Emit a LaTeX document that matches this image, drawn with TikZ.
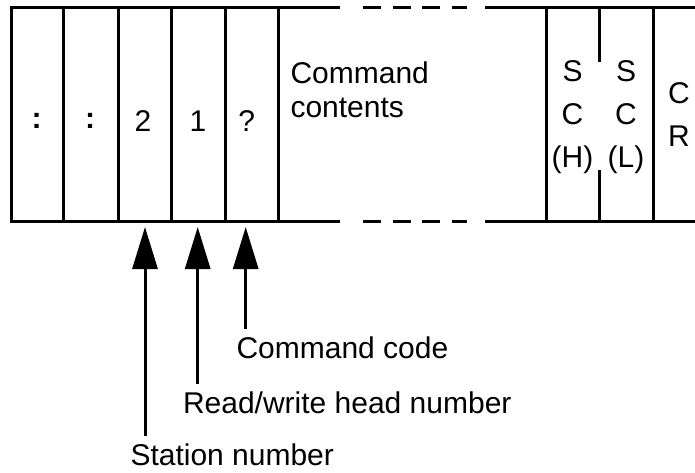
\documentclass[tikz,border=0pt]{standalone}
\usepackage{fontspec}
\setmainfont{Liberation Sans}
\usetikzlibrary{arrows.meta}
\tikzset{
  celltext/.style={inner sep=0pt,font=\fontsize{15}{21.5}\selectfont},
  boldtext/.style={inner sep=0pt,font=\fontsize{15}{21.5}\selectfont\bfseries},
  callout/.style={inner xsep=0pt,inner ysep=3pt,anchor=base west,font=\fontsize{15}{17}\selectfont},
  pointer/.style={-{Triangle[length=21pt,width=12.5pt]}},
  gapline/.style={dash pattern=on 9pt off 5.85pt}
}
\begin{document}
\begin{tikzpicture}[x=0.5pt,y=-0.5pt,line width=1.5pt]
  \useasboundingbox (0,0) rectangle (695,472);
  % frame
  \draw (340,7) -- (11.7,7) -- (11.7,221) -- (340,221);
  \draw (485,7) -- (695,7);
  \draw (485,221) -- (695,221);
  \draw[gapline] (363,7) -- (467,7);
  \draw[gapline] (363,221) -- (467,221);
  \foreach \x in {63.3,118.3,171.7,225,278.3,546,653}
  \draw (\x,7) -- (\x,221);
  \draw (599,7) -- (599,62);
  \draw (599,170) -- (599,221);

  % cell texts
  \node[boldtext] (colA) at (36.7,121) {:};
  \node[boldtext] (colB) at (90,121) {:};
  \node[celltext] (stn) at (143,121) {2};
  \node[celltext] (head) at (198,121) {1};
  \node[celltext] (qmark) at (246.7,121) {?};
  \node[celltext,anchor=base west] (cmdA) at (289,83) {Command};
  \node[celltext,anchor=base west] (cmdB) at (289,117) {contents};
  \node[celltext,align=center] (sch) at (572.5,117) {S\\C\\(H)};
  \node[celltext,align=center] (scl) at (626,117) {S\\C\\(L)};
  \node[celltext,align=center] (cr) at (679,114.5) {C\\R};

  % pointers
  \coordinate (tipA) at (145,227);
  \coordinate (tipB) at (197.7,227);
  \coordinate (tipC) at (245.7,227);
  \node[callout] (code) at (235,358) {Command code};
  \node[callout] (rwhead) at (181.5,413) {Read/write head number};
  \node[callout] (station) at (129,465) {Station number};
  \draw[pointer] (code.north -| tipC) -- (tipC);
  \draw[pointer] (rwhead.north -| tipB) -- (tipB);
  \draw[pointer] (station.north -| tipA) -- (tipA);
\end{tikzpicture}
\end{document}
